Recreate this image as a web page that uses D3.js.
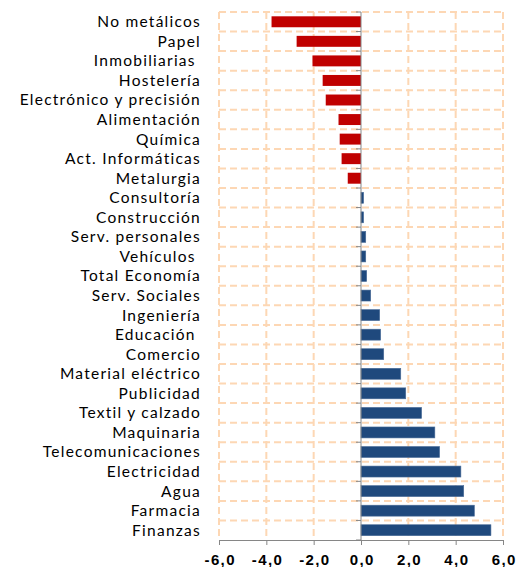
<!DOCTYPE html>
<html>
<head>
<meta charset="utf-8">
<script src="https://cdn.jsdelivr.net/npm/d3@7"></script>
<style>
  body { margin: 0; background: #fff; }
  svg { display: block; font-family: Lato, "Open Sans", sans-serif; }
</style>
</head>
<body>
<div id="chart"></div>
<script>
// Sectores, de arriba a abajo
const sectores = ['No metálicos', 'Papel', 'Inmobiliarias ', 'Hostelería', 'Electrónico y precisión',
  'Alimentación', 'Química', 'Act. Informáticas', 'Metalurgia', 'Consultoría', 'Construcción',
  'Serv. personales', 'Vehículos ', 'Total Economía', 'Serv. Sociales', 'Ingeniería', 'Educación ',
  'Comercio', 'Material eléctrico', 'Publicidad', 'Textil y calzado', 'Maquinaria',
  'Telecomunicaciones', 'Electricidad', 'Agua', 'Farmacia', 'Finanzas'];
// Variación (%) de cada sector
const valores = [-3.78, -2.72, -2.05, -1.62, -1.49, -0.95, -0.90, -0.82, -0.56, 0.11, 0.11,
  0.2, 0.2, 0.24, 0.41, 0.79, 0.83, 0.96, 1.68, 1.89, 2.56, 3.12, 3.32, 4.22, 4.34, 4.79, 5.49];
// Marcas del eje x
const ticksX = [-6, -4, -2, 0, 2, 4, 6];

const width = 530, height = 567;
const margin = { top: 12, right: 27, bottom: 27, left: 219 };

const datos = sectores.map((s, i) => ({ sector: s, valor: valores[i] }));

const svg = d3.select('#chart')
  .append('svg')
  .attr('width', width)
  .attr('height', height);

// Escalas
const x = d3.scaleLinear()
  .domain([-6, 6])
  .range([margin.left, width - margin.right]);

const y = d3.scaleBand()
  .domain(sectores)
  .range([margin.top, height - margin.bottom])
  .paddingInner(0.44)
  .paddingOuter(0.22);

const grid = '#fdd7b4';

// Rejilla horizontal (bordes de cada categoría)
const bordes = d3.range(sectores.length + 1).map(i => margin.top + i * (height - margin.top - margin.bottom) / sectores.length);
svg.append('g')
  .selectAll('line')
  .data(bordes.slice(0, -1))
  .enter()
  .append('line')
  .attr('x1', x(-6)).attr('x2', x(6))
  .attr('y1', d => d).attr('y2', d => d)
  .attr('stroke', grid)
  .attr('stroke-width', 2)
  .attr('stroke-dasharray', '7,4');

// Rejilla vertical
svg.append('g')
  .selectAll('line')
  .data(ticksX.filter(d => d !== 0))
  .enter()
  .append('line')
  .attr('x1', d => x(d)).attr('x2', d => x(d))
  .attr('y1', margin.top).attr('y2', height - margin.bottom)
  .attr('stroke', grid)
  .attr('stroke-width', 2)
  .attr('stroke-dasharray', '7,4');

// Barras
svg.append('g')
  .selectAll('rect')
  .data(datos)
  .enter()
  .append('rect')
  .attr('x', d => x(Math.min(0, d.valor)))
  .attr('y', d => y(d.sector))
  .attr('width', d => Math.abs(x(d.valor) - x(0)))
  .attr('height', y.bandwidth())
  .attr('fill', d => d.valor < 0 ? '#c00000' : '#1f497d')
  .attr('stroke', d => d.valor < 0 ? 'none' : '#4a6c98')
  .attr('stroke-width', 0.6);

// Eje vertical en el cero, con marcas hacia la izquierda
const ejeY = svg.append('g');
ejeY.append('line')
  .attr('x1', x(0)).attr('x2', x(0))
  .attr('y1', margin.top).attr('y2', height - margin.bottom)
  .attr('stroke', '#868686');
ejeY.selectAll('.tk')
  .data(bordes)
  .enter()
  .append('line')
  .attr('x1', x(0) - 5).attr('x2', x(0))
  .attr('y1', d => d).attr('y2', d => d)
  .attr('stroke', '#868686');

// Eje x inferior
const formato = d => d3.format('.1f')(d).replace('.', ',').replace('−', '-');
svg.append('g')
  .attr('transform', `translate(0,${height - margin.bottom})`)
  .call(d3.axisBottom(x).tickValues(ticksX).tickFormat(formato).tickSize(5).tickSizeOuter(0))
  .call(g => g.select('.domain').attr('stroke', '#868686'))
  .call(g => g.selectAll('.tick line').attr('stroke', '#868686'))
  .call(g => g.selectAll('text')
    .attr('fill', '#000')
    .attr('font-size', 15)
    .attr('font-weight', 'bold')
    .attr('letter-spacing', 1.4)
    .attr('y', 0)
    .attr('dy', 0)
    .attr('transform', 'translate(0.7,25)'));

// Etiquetas de los sectores (se conservan los espacios finales)
svg.append('g')
  .selectAll('text')
  .data(datos)
  .enter()
  .append('text')
  .attr('x', 201)
  .attr('y', d => y(d.sector) + y.bandwidth() / 2)
  .attr('dy', '0.35em')
  .attr('text-anchor', 'end')
  .attr('font-size', 15.5)
  .attr('letter-spacing', 1.25)
  .attr('fill', '#000')
  .style('white-space', 'pre')
  .text(d => d.sector);
</script>
</body>
</html>
